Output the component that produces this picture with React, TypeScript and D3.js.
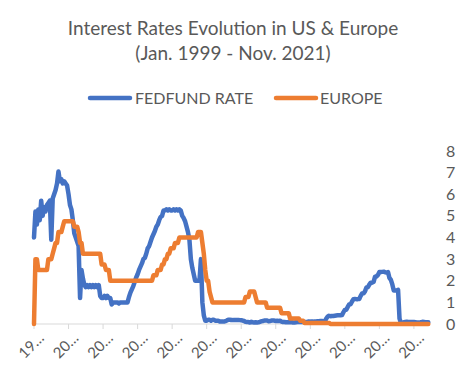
import React from "react";
import * as d3 from "d3";

// monthly values, Jan 1999 - Nov 2021 (one row per year)
const fedfund = [
  4.0, 5.2, 4.6, 5.3, 4.8, 5.7, 5.0, 5.4, 5.2, 5.5, 5.6, 5.7,
  3.9, 5.8, 6.0, 6.2, 6.5, 7.05, 6.6, 6.7, 6.5, 6.6, 6.5, 6.4,
  6.0, 5.5, 5.3, 4.8, 4.2, 4.0, 3.8, 3.6, 1.2, 2.5, 2.1, 1.8,
  1.7, 1.8, 1.7, 1.8, 1.7, 1.8, 1.7, 1.8, 1.7, 1.8, 1.3, 1.2,
  1.2, 1.3, 1.2, 1.3, 1.2, 1.2, 0.9, 1.0, 1.0, 1.0, 1.0, 0.95,
  1.0, 1.0, 1.0, 1.0, 1.0, 1.0, 1.25, 1.45, 1.6, 1.75, 1.95, 2.15,
  2.3, 2.5, 2.65, 2.8, 3.0, 3.05, 3.25, 3.5, 3.6, 3.8, 4.0, 4.15,
  4.3, 4.5, 4.6, 4.8, 4.95, 5.0, 5.25, 5.25, 5.3, 5.25, 5.3, 5.25,
  5.25, 5.3, 5.25, 5.3, 5.25, 5.3, 5.25, 5.0, 4.9, 4.75, 4.5, 4.25,
  3.9, 3.0, 2.6, 2.3, 2.0, 2.0, 2.0, 2.0, 3.0, 1.0, 0.4, 0.15,
  0.15, 0.2, 0.2, 0.15, 0.2, 0.2, 0.15, 0.15, 0.15, 0.12, 0.12, 0.12,
  0.11, 0.13, 0.16, 0.2, 0.2, 0.18, 0.18, 0.19, 0.19, 0.19, 0.19, 0.18,
  0.17, 0.16, 0.14, 0.1, 0.09, 0.09, 0.07, 0.1, 0.08, 0.07, 0.08, 0.07,
  0.08, 0.1, 0.13, 0.14, 0.16, 0.16, 0.16, 0.13, 0.14, 0.16, 0.16, 0.16,
  0.14, 0.15, 0.14, 0.15, 0.11, 0.09, 0.09, 0.08, 0.08, 0.09, 0.08, 0.09,
  0.07, 0.07, 0.08, 0.09, 0.09, 0.1, 0.09, 0.09, 0.09, 0.09, 0.09, 0.12,
  0.11, 0.11, 0.11, 0.12, 0.12, 0.13, 0.13, 0.14, 0.14, 0.12, 0.12, 0.24,
  0.34, 0.38, 0.36, 0.37, 0.37, 0.38, 0.39, 0.4, 0.4, 0.4, 0.41, 0.54,
  0.65, 0.66, 0.79, 0.9, 0.91, 1.04, 1.15, 1.16, 1.15, 1.15, 1.16, 1.3,
  1.41, 1.42, 1.51, 1.69, 1.7, 1.82, 1.91, 1.91, 1.95, 2.19, 2.2, 2.27,
  2.4, 2.4, 2.41, 2.42, 2.39, 2.38, 2.4, 2.13, 2.04, 1.83, 1.55, 1.55,
  1.55, 1.58, 0.25, 0.05, 0.05, 0.08, 0.09, 0.1, 0.09, 0.09, 0.09, 0.09,
  0.09, 0.08, 0.07, 0.07, 0.06, 0.08, 0.1, 0.09, 0.08, 0.08, 0.08,
];

const europe = [
  0, 3, 3, 2.5, 2.5, 2.5, 2.5, 2.5, 2.5, 2.5, 3, 3,
  3, 3.25, 3.5, 3.75, 3.75, 4.25, 4.25, 4.25, 4.5, 4.75, 4.75, 4.75,
  4.75, 4.75, 4.75, 4.75, 4.5, 4.5, 4.5, 4.25, 3.75, 3.75, 3.25, 3.25,
  3.25, 3.25, 3.25, 3.25, 3.25, 3.25, 3.25, 3.25, 3.25, 3.25, 3.25, 2.75,
  2.75, 2.75, 2.5, 2.5, 2.5, 2, 2, 2, 2, 2, 2, 2,
  2, 2, 2, 2, 2, 2, 2, 2, 2, 2, 2, 2,
  2, 2, 2, 2, 2, 2, 2, 2, 2, 2, 2, 2.25,
  2.25, 2.25, 2.5, 2.5, 2.5, 2.75, 2.75, 3, 3, 3.25, 3.25, 3.5,
  3.5, 3.5, 3.75, 3.75, 3.75, 4, 4, 4, 4, 4, 4, 4,
  4, 4, 4, 4, 4, 4, 4.25, 4.25, 4.25, 3.75, 3.25, 2.5,
  2, 2, 1.5, 1.25, 1, 1, 1, 1, 1, 1, 1, 1,
  1, 1, 1, 1, 1, 1, 1, 1, 1, 1, 1, 1,
  1, 1, 1, 1.25, 1.25, 1.25, 1.5, 1.5, 1.5, 1.5, 1.25, 1,
  1, 1, 1, 1, 1, 1, 0.75, 0.75, 0.75, 0.75, 0.75, 0.75,
  0.75, 0.75, 0.75, 0.75, 0.5, 0.5, 0.5, 0.5, 0.5, 0.5, 0.25, 0.25,
  0.25, 0.25, 0.25, 0.25, 0.25, 0.15, 0.15, 0.15, 0.05, 0.05, 0.05, 0.05,
  0.05, 0.05, 0.05, 0.05, 0.05, 0.05, 0.05, 0.05, 0.05, 0.05, 0.05, 0.05,
  0.05, 0.05, 0, 0, 0, 0, 0, 0, 0, 0, 0, 0,
  0, 0, 0, 0, 0, 0, 0, 0, 0, 0, 0, 0,
  0, 0, 0, 0, 0, 0, 0, 0, 0, 0, 0, 0,
  0, 0, 0, 0, 0, 0, 0, 0, 0, 0, 0, 0,
  0, 0, 0, 0, 0, 0, 0, 0, 0, 0, 0, 0,
  0, 0, 0, 0, 0, 0, 0, 0, 0, 0, 0,
];

const tickYears = [1999, 2001, 2003, 2005, 2007, 2009, 2011, 2013, 2015, 2017, 2019, 2021];
const tickLabels = ["19…", "20…", "20…", "20…", "20…", "20…", "20…", "20…", "20…", "20…", "20…", "20…"];
const yTicks = [0, 1, 2, 3, 4, 5, 6, 7, 8];

const W = 466;
const H = 371;
const font = "Lato, 'Open Sans', sans-serif";
const textColor = "#595959";

export default function App() {
  const x = d3.scaleLinear().domain([0, fedfund.length - 1]).range([34, 428.3]);
  const y = d3.scaleLinear().domain([0, 8]).range([324, 151]);

  const line = d3
    .line<number>()
    .x((d, i) => x(i))
    .y(d => y(d));

  return (
    <svg
      width={W}
      height={H}
      style={{ position: "absolute", left: 0, top: 0, background: "#fff" }}
      fontFamily={font}
    >
      {/* Title */}
      <text x={233} y={35} textAnchor="middle" fontSize={19} fill={textColor}>
        Interest Rates Evolution in US &amp; Europe
      </text>
      <text x={233} y={60} textAnchor="middle" fontSize={19} fill={textColor}>
        (Jan. 1999 - Nov. 2021)
      </text>

      {/* Legend */}
      <line x1={90} x2={130} y1={98} y2={98} stroke="#4472C4" strokeWidth={4.5} strokeLinecap="round" />
      <text x={135} y={104} fontSize={16} fill={textColor}>FEDFUND RATE</text>
      <line x1={276} x2={316} y1={98} y2={98} stroke="#ED7D31" strokeWidth={4.5} strokeLinecap="round" />
      <text x={320} y={104} fontSize={16} fill={textColor}>EUROPE</text>

      {/* x-axis */}
      <line x1={34} x2={430} y1={y(0)} y2={y(0)} stroke="#D9D9D9" strokeWidth={1} />
      {tickYears.map((yr, i) => {
        const tx = x((yr - tickYears[0]) * 12);
        return (
          <g key={yr}>
            <line x1={tx} x2={tx} y1={y(0)} y2={y(0) + 5} stroke="#D9D9D9" />
            <text
              transform={`translate(${tx + 11},${y(0) + 15}) rotate(-45)`}
              textAnchor="end"
              fontSize={15}
              fill={textColor}
            >
              {tickLabels[i]}
            </text>
          </g>
        );
      })}

      {/* y-axis on the right */}
      {yTicks.map(t => (
        <text key={t} x={446} y={y(t) + 5.5} fontSize={16} fill={textColor}>
          {t}
        </text>
      ))}

      {/* Lines */}
      <path d={line(fedfund) || ""} fill="none" stroke="#4472C4" strokeWidth={4.5} strokeLinejoin="round" strokeLinecap="round" />
      <path d={line(europe) || ""} fill="none" stroke="#ED7D31" strokeWidth={4.5} strokeLinejoin="round" strokeLinecap="round" />
    </svg>
  );
}
